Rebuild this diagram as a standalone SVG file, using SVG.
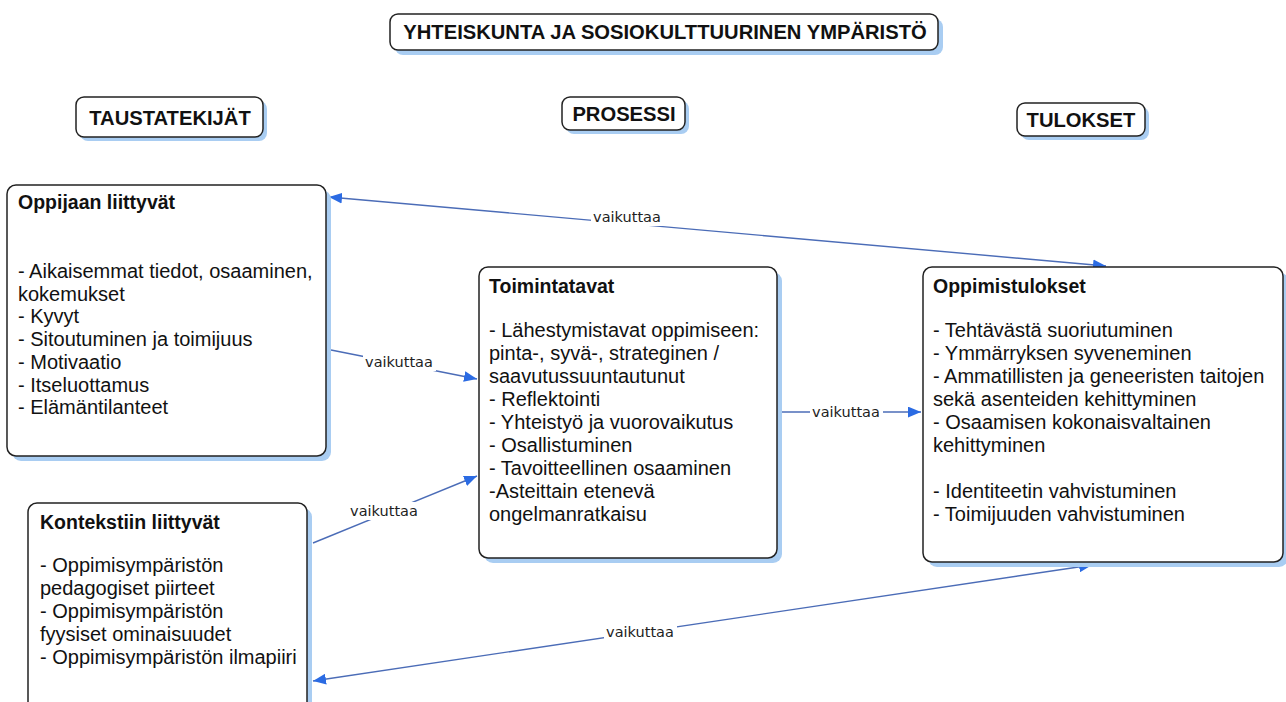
<svg xmlns="http://www.w3.org/2000/svg" width="1286" height="702" viewBox="0 0 1286 702">
<style>
.box{fill:#fff;stroke:#222;stroke-width:1.5}
.sh{fill:#a9cdf2}
.hd{font-family:"Liberation Sans",Arial,sans-serif;font-weight:bold;font-size:20.2px;fill:#111}
.tt{font-family:"Liberation Sans",Arial,sans-serif;font-weight:bold;font-size:19.5px;fill:#111}
.tx{font-family:"Liberation Sans",Arial,sans-serif;font-size:20px;fill:#111}
.ln{stroke:#4b6cb7;stroke-width:1.4;fill:none}
.lb{font-family:"DejaVu Sans",Verdana,sans-serif;font-size:14.5px;fill:#222;text-anchor:middle}
.lbg{fill:#fff}
</style>
<defs>
<marker id="ah" viewBox="0 0 12 10" refX="12" refY="5" markerWidth="13" markerHeight="11" markerUnits="userSpaceOnUse" orient="auto-start-reverse">
<path d="M0,0 L12,5 L0,10 Z" fill="#2b6be3"/>
</marker>
</defs>
<rect width="1286" height="702" fill="#fff"/>

<g id="header-society">
<rect class="sh" x="395" y="19" width="548" height="36" rx="8"/>
<rect class="box" x="390" y="14" width="548" height="36" rx="8"/>
<text class="hd" x="665" y="39" text-anchor="middle">YHTEISKUNTA JA SOSIOKULTTUURINEN YMPÄRISTÖ</text>
</g>

<g id="header-tausta">
<rect class="sh" x="80" y="101" width="187" height="40" rx="8"/>
<rect class="box" x="76" y="97" width="187" height="40" rx="8"/>
<text class="hd" x="170" y="125" text-anchor="middle">TAUSTATEKIJÄT</text>
</g>

<g id="header-prosessi">
<rect class="sh" x="566" y="101" width="123" height="33" rx="8"/>
<rect class="box" x="562" y="97" width="123" height="33" rx="8"/>
<text class="hd" x="624" y="121" text-anchor="middle">PROSESSI</text>
</g>

<g id="header-tulokset">
<rect class="sh" x="1021" y="107" width="128" height="33" rx="8"/>
<rect class="box" x="1017" y="103" width="128" height="33" rx="8"/>
<text class="hd" x="1081" y="127" text-anchor="middle">TULOKSET</text>
</g>

<g id="connectors">
<line class="ln" x1="329" y1="197" x2="1106" y2="266" marker-start="url(#ah)" marker-end="url(#ah)"/>
<rect class="lbg" x="591" y="208" width="72" height="18"/>
<text class="lb" x="627" y="222">vaikuttaa</text>

<line class="ln" x1="331" y1="350" x2="477" y2="379" marker-end="url(#ah)"/>
<rect class="lbg" x="363" y="353" width="73" height="18"/>
<text class="lb" x="399" y="367">vaikuttaa</text>

<line class="ln" x1="313" y1="543" x2="477" y2="476" marker-end="url(#ah)"/>
<rect class="lbg" x="348" y="502" width="73" height="18"/>
<text class="lb" x="384" y="516">vaikuttaa</text>

<line class="ln" x1="779" y1="412" x2="921" y2="412" marker-end="url(#ah)"/>
<rect class="lbg" x="810" y="403" width="73" height="18"/>
<text class="lb" x="846" y="417">vaikuttaa</text>

<line class="ln" x1="313" y1="681" x2="1092" y2="565" marker-start="url(#ah)" marker-end="url(#ah)"/>
<rect class="lbg" x="604" y="623" width="73" height="18"/>
<text class="lb" x="640" y="637">vaikuttaa</text>
</g>

<g id="node-oppijaan">
<rect class="sh" x="12" y="190" width="319" height="271" rx="9"/>
<rect class="box" x="7" y="185" width="319" height="271" rx="9"/>
<text class="tt" x="18" y="209">Oppijaan liittyvät</text>
<text class="tx" x="18" y="278">- Aikaisemmat tiedot, osaaminen,</text>
<text class="tx" x="18" y="301">kokemukset</text>
<text class="tx" x="18" y="323">- Kyvyt</text>
<text class="tx" x="18" y="346">- Sitoutuminen ja toimijuus</text>
<text class="tx" x="18" y="369">- Motivaatio</text>
<text class="tx" x="18" y="392">- Itseluottamus</text>
<text class="tx" x="18" y="414">- Elämäntilanteet</text>
</g>

<g id="node-kontekstiin">
<rect class="sh" x="33" y="508" width="279" height="215" rx="9"/>
<rect class="box" x="28" y="503" width="279" height="215" rx="9"/>
<text class="tt" x="40" y="529">Kontekstiin liittyvät</text>
<text class="tx" x="40" y="572">- Oppimisympäristön</text>
<text class="tx" x="40" y="595">pedagogiset piirteet</text>
<text class="tx" x="40" y="618">- Oppimisympäristön</text>
<text class="tx" x="40" y="641">fyysiset ominaisuudet</text>
<text class="tx" x="40" y="664">- Oppimisympäristön ilmapiiri</text>
</g>

<g id="node-toimintatavat">
<rect class="sh" x="484" y="272" width="298" height="291" rx="9"/>
<rect class="box" x="479" y="267" width="298" height="291" rx="9"/>
<text class="tt" x="489" y="293">Toimintatavat</text>
<text class="tx" x="489" y="337">- Lähestymistavat oppimiseen:</text>
<text class="tx" x="489" y="360">pinta-, syvä-, strateginen /</text>
<text class="tx" x="489" y="383">saavutussuuntautunut</text>
<text class="tx" x="489" y="406">- Reflektointi</text>
<text class="tx" x="489" y="429">- Yhteistyö ja vuorovaikutus</text>
<text class="tx" x="489" y="452">- Osallistuminen</text>
<text class="tx" x="489" y="475">- Tavoitteellinen osaaminen</text>
<text class="tx" x="489" y="498">-Asteittain etenevä</text>
<text class="tx" x="489" y="521">ongelmanratkaisu</text>
</g>

<g id="node-oppimistulokset">
<rect class="sh" x="928" y="272" width="360" height="295" rx="9"/>
<rect class="box" x="923" y="267" width="360" height="295" rx="9"/>
<text class="tt" x="933" y="293">Oppimistulokset</text>
<text class="tx" x="933" y="337">- Tehtävästä suoriutuminen</text>
<text class="tx" x="933" y="360">- Ymmärryksen syveneminen</text>
<text class="tx" x="933" y="383">- Ammatillisten ja geneeristen taitojen</text>
<text class="tx" x="933" y="406">sekä asenteiden kehittyminen</text>
<text class="tx" x="933" y="429">- Osaamisen kokonaisvaltainen</text>
<text class="tx" x="933" y="452">kehittyminen</text>
<text class="tx" x="933" y="498">- Identiteetin vahvistuminen</text>
<text class="tx" x="933" y="521">- Toimijuuden vahvistuminen</text>
</g>
</svg>
